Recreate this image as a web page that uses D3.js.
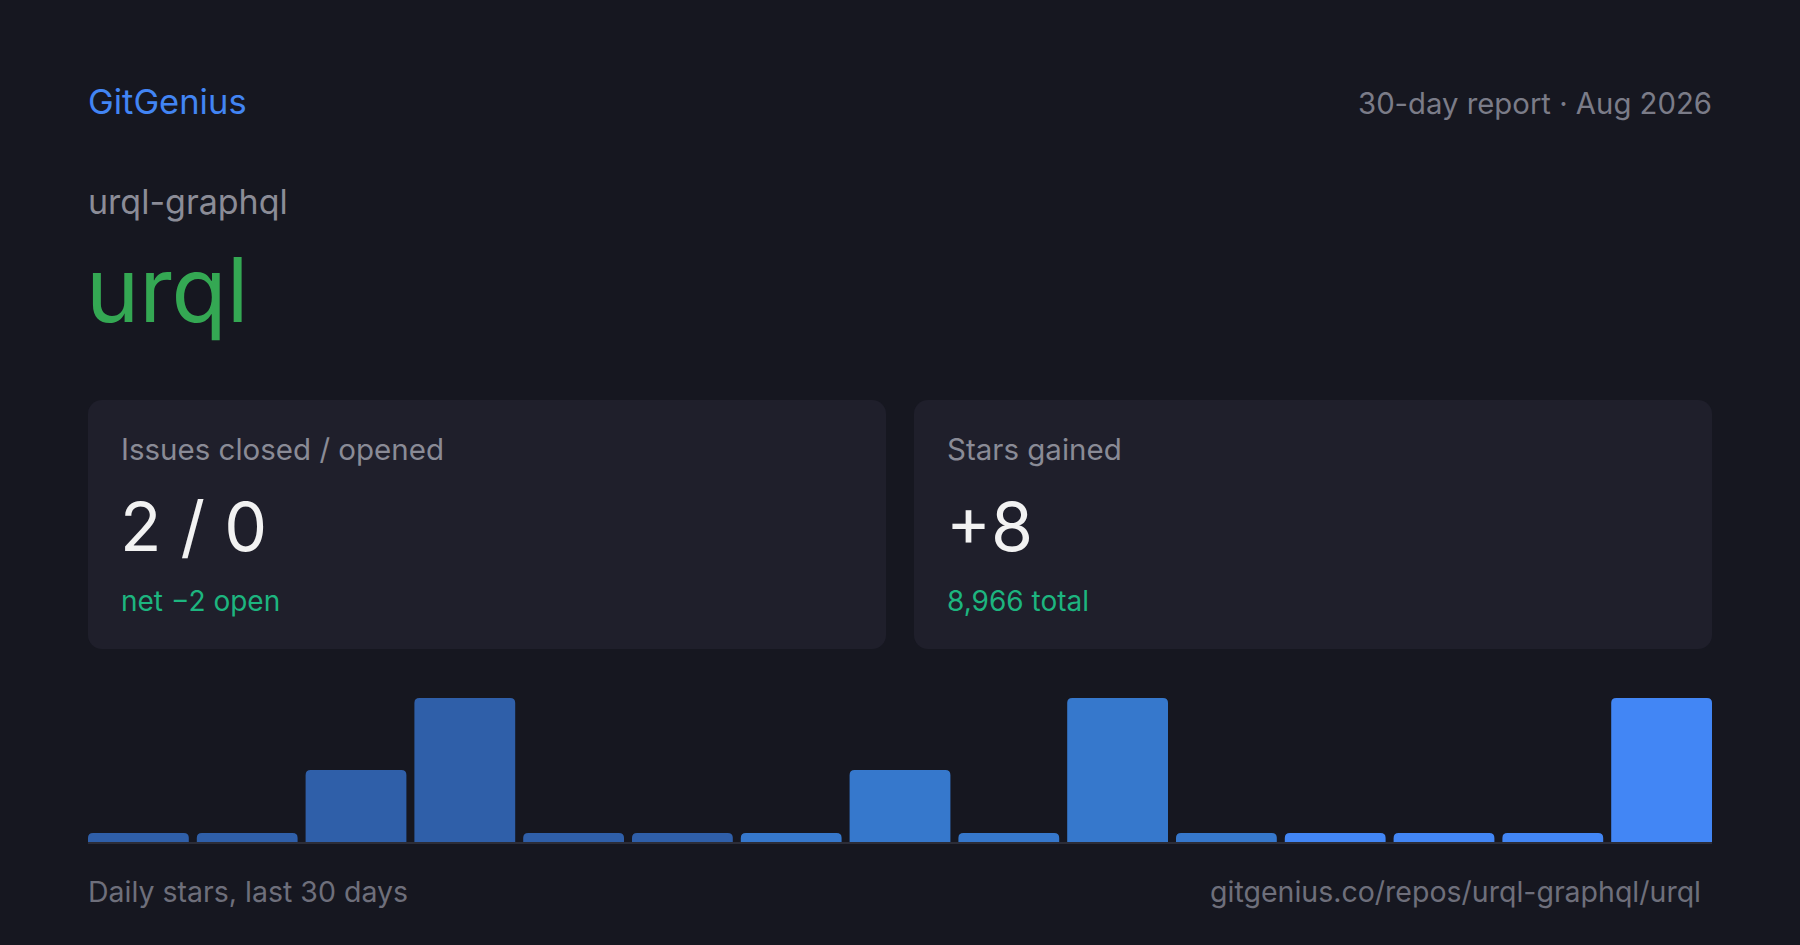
<!DOCTYPE html>
<html>
<head>
<meta charset="utf-8">
<script src="https://cdn.jsdelivr.net/npm/d3@7"></script>
<style>
  html, body { margin: 0; padding: 0; background: #161720; }
  svg { display: block; font-family: Inter, "Noto Sans", sans-serif; }
</style>
</head>
<body>
<script>
// data
var periods = ["1", "2", "3", "4", "5", "6", "7", "8", "9", "10", "11", "12", "13", "14", "15"];
var stars = [0, 0, 1, 2, 0, 0, 0, 1, 0, 2, 0, 0, 0, 0, 2];
var cardLabels = ["Issues closed / opened", "Stars gained"];
var cardValues = ["2 / 0", "+8"];
var cardNotes = ["net \u22122 open", "8,966 total"];

var width = 1800;
var height = 945;
var padding = 88;
var baseline = 842;

var svg = d3.select("body").append("svg")
            .attr("width", width)
            .attr("height", height);

svg.append("rect")
   .attr("width", width)
   .attr("height", height)
   .attr("fill", "#161720");

// header
svg.append("text")
   .attr("x", padding).attr("y", 114)
   .attr("font-size", 34.5)
   .attr("fill", "#4285f4")
   .text("GitGenius");

svg.append("text")
   .attr("x", width - padding).attr("y", 114)
   .attr("text-anchor", "end")
   .attr("font-size", 29.3)
   .attr("fill", "#7b7c88")
   .text("30-day report \u00b7 Aug 2026");

svg.append("text")
   .attr("x", padding).attr("y", 214)
   .attr("font-size", 34)
   .attr("fill", "#8b8c97")
   .text("urql-graphql");

svg.append("text")
   .attr("x", padding - 2).attr("y", 322)
   .attr("font-size", 90)
   .attr("fill", "#34a853")
   .text("urql");

// cards
var cardGap = 28;
var cardW = (width - padding * 2 - cardGap) / 2;
var cards = svg.selectAll("g.card")
   .data(cardLabels)
   .enter()
   .append("g")
   .attr("class", "card")
   .attr("transform", function(d, i) {
        return "translate(" + (padding + i * (cardW + cardGap)) + ",400)";
    });

cards.append("rect")
     .attr("width", cardW)
     .attr("height", 249)
     .attr("rx", 14)
     .attr("fill", "#1f1f2b");

cards.append("text")
     .attr("x", 33).attr("y", 60)
     .attr("font-size", 29.5)
     .attr("fill", "#8a8b96")
     .text(function(d) { return d; });

cards.append("text")
     .attr("x", 32).attr("y", 151)
     .attr("font-size", 68)
     .attr("fill", "#f2f2f2")
     .text(function(d, i) { return cardValues[i]; });

cards.append("text")
     .attr("x", 33).attr("y", 211)
     .attr("font-size", 28)
     .attr("fill", "#1db57f")
     .text(function(d, i) { return cardNotes[i]; });

// bars
var xScale = d3.scaleBand()
               .domain(periods)
               .range([padding, width - padding + 8])
               .paddingInner(0)
               .paddingOuter(0);
var barW = xScale.bandwidth() - 8;
var yScale = d3.scaleLinear()
               .domain([0, d3.max(stars)])
               .range([baseline, 698]);
var color = d3.scaleThreshold()
              .domain([6, 11])
              .range(["#2f5fa9", "#3678cc", "#4286f5"]);

var barPath = function(x, y, w, h, r) {
    return "M" + x + "," + (y + h) +
           "V" + (y + r) +
           "Q" + x + "," + y + " " + (x + r) + "," + y +
           "H" + (x + w - r) +
           "Q" + (x + w) + "," + y + " " + (x + w) + "," + (y + r) +
           "V" + (y + h) + "Z";
};

svg.selectAll("path.bar")
   .data(stars)
   .enter()
   .append("path")
   .attr("class", "bar")
   .attr("d", function(d, i) {
        var h = Math.max(baseline - yScale(d), 9);
        return barPath(xScale(periods[i]), baseline - h, barW, h, 5);
    })
   .attr("fill", function(d, i) { return color(i); });

svg.append("rect")
   .attr("x", padding)
   .attr("y", baseline)
   .attr("width", width - padding * 2)
   .attr("height", 2)
   .attr("fill", "#2c2d38");

// footer
svg.append("text")
   .attr("x", padding).attr("y", 902)
   .attr("font-size", 28.5)
   .attr("fill", "#6e6f7b")
   .text("Daily stars, last 30 days");

svg.append("text")
   .attr("x", width - padding - 11).attr("y", 902)
   .attr("text-anchor", "end")
   .attr("font-size", 28.5)
   .attr("fill", "#6e6f7b")
   .text("gitgenius.co/repos/urql-graphql/urql");
</script>
</body>
</html>
